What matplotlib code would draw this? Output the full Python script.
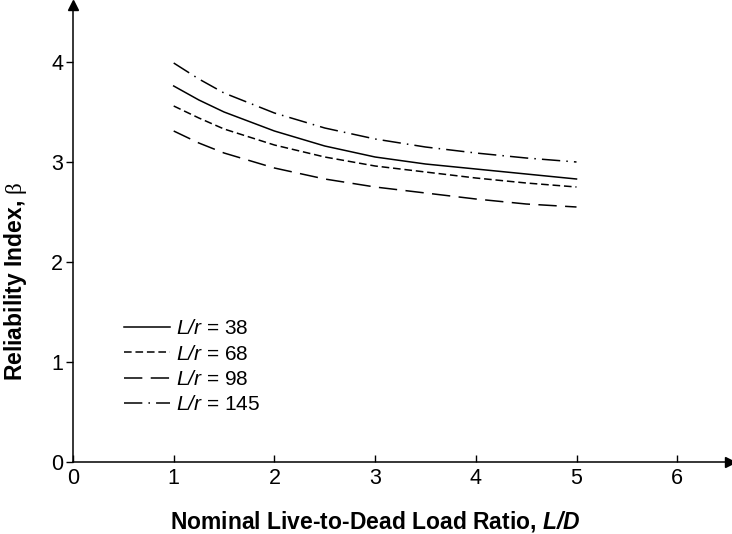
import matplotlib
matplotlib.use("Agg")
import matplotlib.pyplot as plt

plt.rcParams['font.family'] = ['Liberation Sans', 'DejaVu Sans']
plt.rcParams['mathtext.fontset'] = 'custom'
plt.rcParams['mathtext.rm'] = 'Liberation Serif'
plt.rcParams['mathtext.it'] = 'Liberation Sans:italic'
plt.rcParams['mathtext.sf'] = 'Liberation Sans:italic'
plt.rcParams['mathtext.bf'] = 'Liberation Sans:bold:italic'
plt.rcParams['mathtext.bfit'] = 'Liberation Sans:bold:italic'

x_ld = [1.0, 1.25, 1.5, 2.0, 2.5, 3.0, 3.5, 4.0, 4.5, 5.0]
beta_38 = [3.76, 3.62, 3.50, 3.31, 3.16, 3.05, 2.98, 2.93, 2.88, 2.83]
beta_68 = [3.56, 3.44, 3.33, 3.17, 3.05, 2.96, 2.90, 2.84, 2.79, 2.75]
beta_98 = [3.31, 3.19, 3.09, 2.94, 2.83, 2.75, 2.69, 2.63, 2.58, 2.55]
beta_145 = [3.99, 3.83, 3.69, 3.49, 3.34, 3.23, 3.15, 3.09, 3.04, 3.00]
labels = ['$\\mathsf{L/r}$ = 38', '$\\mathsf{L/r}$ = 68', '$\\mathsf{L/r}$ = 98',
          '$\\mathsf{L/r}$ = 145']
x_ticks = [0, 1, 2, 3, 4, 5, 6]
y_ticks = [0, 1, 2, 3, 4]

fig = plt.figure(figsize=(7.32, 5.34), dpi=100)
W, H = 732, 534
ax = fig.add_axes([73 / W, 72 / H, (730 - 73) / W, (462 - 5) / H])

lw = 1.1
ax.plot(x_ld, beta_38, color='black', lw=lw, linestyle='-', label=labels[0])
ax.plot(x_ld, beta_68, color='black', lw=lw, linestyle=(0, (5, 2.5)), label=labels[1])
ax.plot(x_ld, beta_98, color='black', lw=lw, linestyle=(0, (12, 5.5)), label=labels[2])
ax.plot(x_ld, beta_145, color='black', lw=lw, linestyle=(0, (12, 4, 1, 4)), label=labels[3])

ax.set_xlim(0, (730 - 73) / 100.7)
ax.set_ylim(0, (462 - 5) / 100.0)
ax.spines['top'].set_visible(False)
ax.spines['right'].set_visible(False)
ax.spines['left'].set_linewidth(1.1)
ax.spines['bottom'].set_linewidth(1.1)

ax.set_xticks(x_ticks)
ax.set_yticks(y_ticks)
ax.tick_params(axis='x', direction='in', length=5, width=1, labelsize=15.5, pad=4)
ax.tick_params(axis='y', direction='out', length=5, width=1, labelsize=15.5, pad=2)

# arrow heads
ax.plot(1, 0, marker='>', color='black', markersize=7, transform=ax.transAxes, clip_on=False)
ax.plot(0, 1, marker='^', color='black', markersize=7, transform=ax.transAxes, clip_on=False)

ax.set_xlabel('Nominal Live-to-Dead Load Ratio, $\\mathbf{L/D}$', fontsize=16.5,
              fontweight='bold')
ax.xaxis.label.set_verticalalignment('center')
ax.xaxis.set_label_coords((375 - 73) / 657, -(522 - 462) / 457)
ax.set_ylabel('Reliability Index, $\\mathrm{\\beta}$', fontsize=16.5, fontweight='bold')
ax.yaxis.set_label_coords(-(73 - 16) / 657, (462 - 281) / 457)
ax.yaxis.label.set_verticalalignment('center')

ax.legend(loc='upper left', bbox_to_anchor=(0.065, 0.331), frameon=False, fontsize=15,
          handlelength=2.2, handletextpad=0.3, labelspacing=0.31, borderaxespad=0)

fig.savefig('out.png', dpi=100)
